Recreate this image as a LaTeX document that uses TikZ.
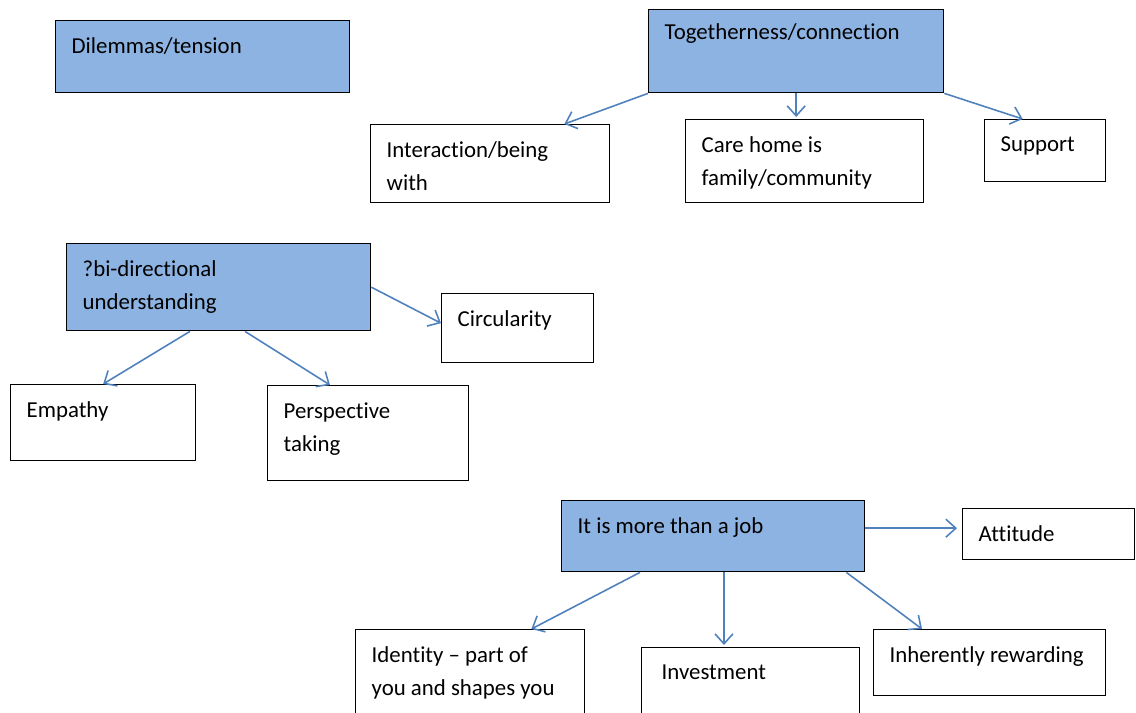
\documentclass[tikz,border=0pt]{standalone}
\usepackage{xcolor}
\usepackage{fontspec}
\setmainfont{Carlito}[Ligatures=NoCommon]
\usepackage{tikz}
\usetikzlibrary{arrows.meta}

\definecolor{themeblue}{HTML}{8DB3E2}
\definecolor{linkblue}{HTML}{4F81BD}

% text block inside a box: width, height, text
\newcommand{\cell}[3]{\parbox[t][\dimexpr#2-0.68cm\relax][t]{\dimexpr#1-0.64cm\relax}{\raggedright #3}}

\begin{document}
\begin{tikzpicture}[
    x=0.02cm, y=-0.02cm,
    box/.style={rectangle, draw=black, line width=0.8pt, anchor=north west, inner xsep=0.32cm, inner ysep=0.34cm, font=\fontsize{13}{18.8}\selectfont},
    theme/.style={box, fill=themeblue},
    idea/.style={box, fill=white},
    arrow/.style={draw=linkblue, line width=0.9pt, -{Straight Barb[length=2mm, width=3.6mm]}}
]
    \clip (0,0) rectangle (1136,713);

    % Themes
    \node[theme] (dilemma) at (55,20) {\cell{5.88cm}{1.44cm}{Dilemmas/tension}};
    \node[theme, inner ysep=0.27cm] (together) at (648,9) {\cell{5.9cm}{1.80cm}{Togetherness/connection}};
    \node[theme] (bidir) at (66,243) {\cell{6.08cm}{1.74cm}{?bi-directional\\understanding}};
    \node[theme] (job) at (561,500) {\cell{6.06cm}{1.42cm}{It is more than a job}};

    % Sub-themes
    \node[idea] (interact) at (370,124) {\cell{4.78cm}{1.56cm}{Interaction/being\\with}};
    \node[idea] (carehome) at (685,119) {\cell{4.76cm}{1.66cm}{Care home is\\family/community}};
    \node[idea] (support) at (984,119) {\cell{2.42cm}{1.24cm}{Support}};
    \node[idea] (circ) at (441,293) {\cell{3.04cm}{1.38cm}{Circularity}};
    \node[idea] (empathy) at (10,384) {\cell{3.7cm}{1.52cm}{Empathy}};
    \node[idea] (persp) at (267,385) {\cell{4.02cm}{1.9cm}{Perspective\\taking}};
    \node[idea] (attitude) at (962,508) {\cell{3.44cm}{1.02cm}{Attitude}};
    \node[idea] (identity) at (355,629) {\cell{4.58cm}{1.9cm}{Identity -- part of\\you and shapes you}};
    \node[idea] (invest) at (641,647) {\cell{4.36cm}{1.54cm}{\hspace{0.08cm}Investment}};
    \node[idea] (inherent) at (873,629) {\cell{4.64cm}{1.32cm}{Inherently rewarding}};

    % Arrows
    \draw[arrow] (together.south west) -- ([xshift=-0.92cm]interact.north east);
    \draw[arrow] (together.south) -- ([yshift=0.04cm]together.south |- carehome.north);
    \draw[arrow] (together.south east) -- ([xshift=-0.45cm]support.north);
    \draw[arrow] (bidir.east) -- ([yshift=0.1cm]circ.west);
    \draw[arrow] ([xshift=2.48cm]bidir.south west) -- (empathy.north);
    \draw[arrow] ([xshift=3.58cm]bidir.south west) -- ([xshift=1.26cm]persp.north west);
    \draw[arrow] ([yshift=0.12cm]attitude.west -| job.east) -- ([xshift=-0.1cm, yshift=0.12cm]attitude.west);
    \draw[arrow] ([xshift=1.58cm]job.south west) -- ([xshift=-1.08cm]identity.north east);
    \draw[arrow] ([xshift=3.26cm]job.south west) coordinate (jobmid) -- ([yshift=0.04cm]jobmid |- invest.north);
    \draw[arrow] ([xshift=-0.38cm]job.south east) -- ([xshift=0.98cm]inherent.north west);

\end{tikzpicture}
\end{document}
